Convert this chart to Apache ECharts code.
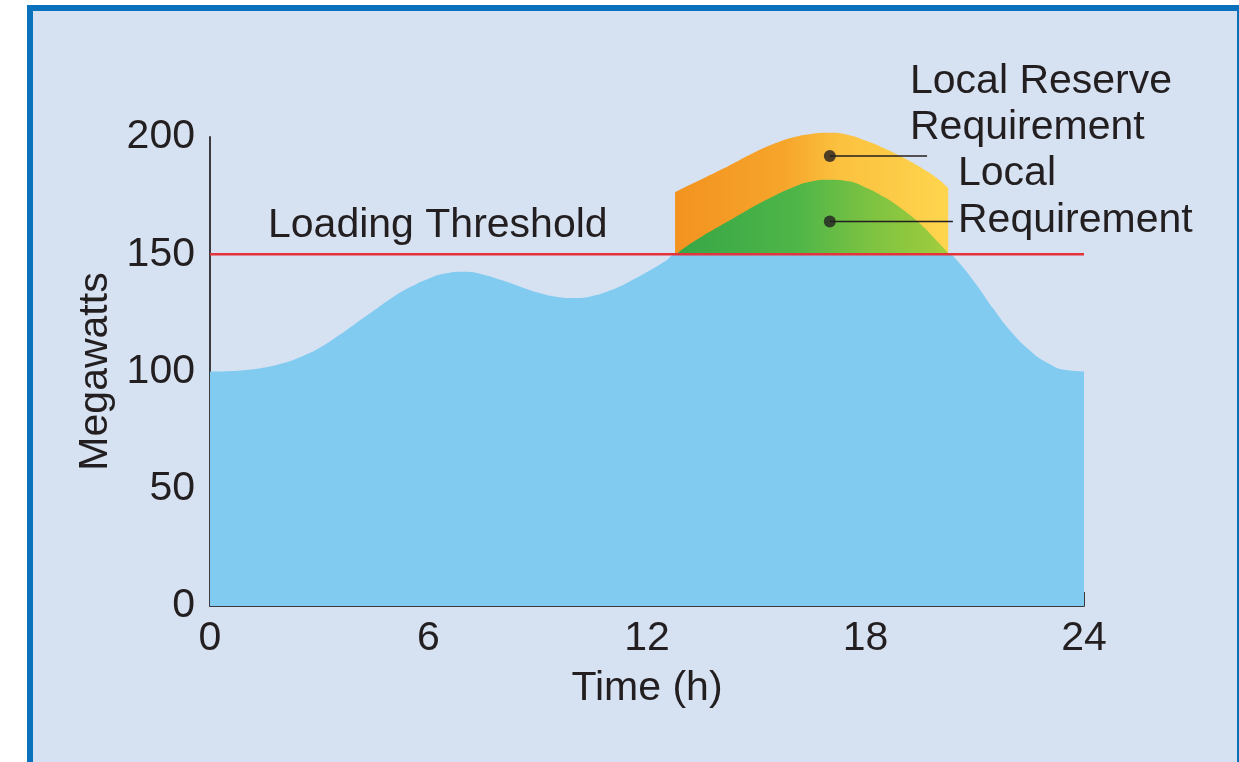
<!DOCTYPE html>
<html>
<head>
<meta charset="utf-8">
<script src="https://cdn.jsdelivr.net/npm/echarts@6/dist/echarts.min.js"></script>
<style>
  html, body { margin: 0; padding: 0; background: #ffffff; overflow: hidden; }
  #frame { position: absolute; left: 27px; top: 5px; width: 1204px; height: 800px;
           background: #d6e1f2; border-left: 6px solid #0a72bd; border-top: 6px solid #0a72bd; border-right: 6px solid #0a72bd; }
  #chart { position: absolute; left: 0; top: 0; width: 1239px; height: 762px; }
</style>
</head>
<body>
<div id="frame"></div>
<div id="chart"></div>
<script>
// ---- data ----
const xTicks = [0, 6, 12, 18, 24];
const yTicks = [0, 50, 100, 150, 200];
const loadHours = [0, 0.5, 1, 1.5, 2, 2.5, 3, 3.5, 4, 4.5, 5, 5.5, 6, 6.5, 7, 7.5, 8, 8.5, 9, 9.5, 10, 10.5, 11, 11.5, 12, 12.5, 12.8,
                   13.5, 14, 15, 16, 17, 18, 19, 20, 20.3, 20.5, 21, 21.5, 22, 22.5, 23, 23.5, 24];
const loadMW    = [100, 100.1, 100.6, 101.7, 103.5, 106.3, 110, 115, 120.5, 126, 131.5, 136, 139.6, 141.9, 142.5, 141.3, 139, 136.3, 133.7, 131.9, 131.3, 132.2, 134.6, 138.2, 142.4, 147, 150,
                   150, 150, 150, 150, 150, 150, 150, 150, 150, 147.5, 138, 127, 117, 109.2, 103.6, 100.6, 100];
const reserveHours = [12.77, 13, 13.5, 14, 14.5, 15, 15.5, 16, 16.5, 17, 17.5, 18, 18.5, 19, 19.5, 20, 20.27];
const reserveMW    = [176.5, 178.3, 182, 185.8, 189.8, 193.8, 197.2, 199.8, 201.3, 201.8, 201, 198.5, 195.3, 191.5, 187.2, 182, 178.2];
const localHours = [12.8, 13, 13.5, 14, 14.5, 15, 15.5, 16, 16.5, 17, 17.5, 18, 18.5, 19, 19.5, 20, 20.3];
const localMW    = [150, 152.5, 157.5, 162, 166.5, 171, 175, 178.5, 181, 181.8, 181.2, 178.5, 174.5, 169.3, 163, 155, 150];
const threshold = 150;
const thresholdSpan = [0, 24];
const reserveDot = [17.02, 191.9];
const reserveLeaderEnd = 19.69;
const localDot = [17.02, 164.0];
const localLeaderEnd = 20.4;

const FONT = '"Liberation Sans", Arial, Helvetica, sans-serif';
const FS = 41;
const TXT = '#231f20';

const zip = (xs, ys) => xs.map((x, i) => [x, ys[i]]);

const chart = echarts.init(document.getElementById('chart'), null, { renderer: 'canvas' });
chart.setOption({
  backgroundColor: 'transparent',
  animation: false,
  grid: { left: 210, right: 155, top: 137, bottom: 156, containLabel: false },
  xAxis: {
    type: 'value', min: xTicks[0], max: xTicks[xTicks.length - 1], interval: 6,
    name: 'Time (h)', nameLocation: 'middle', nameGap: 62,
    nameTextStyle: { fontFamily: FONT, fontSize: FS, color: TXT },
    axisLine: { show: true, lineStyle: { color: '#3b3b3d', width: 2 } },
    axisTick: { show: true, inside: true, length: 14, lineStyle: { color: '#3b3b3d', width: 2 } },
    axisLabel: { fontFamily: FONT, fontSize: FS, color: TXT, margin: 12,
                 formatter: v => xTicks.includes(v) ? String(v) : '' },
    splitLine: { show: false }
  },
  yAxis: {
    type: 'value', min: yTicks[0], max: yTicks[yTicks.length - 1], interval: 50,
    name: 'Megawatts', nameLocation: 'middle', nameGap: 94, nameRotate: 90,
    nameTextStyle: { fontFamily: FONT, fontSize: FS, color: TXT },
    axisLine: { show: true, lineStyle: { color: '#3b3b3d', width: 2 } },
    axisTick: { show: false },
    axisLabel: { fontFamily: FONT, fontSize: FS, color: TXT, margin: 15,
                 formatter: v => yTicks.includes(v) ? String(v) : '' },
    splitLine: { show: false }
  },
  graphic: [
    { type: 'text', left: 268, top: 226 - 21, style: { text: 'Loading Threshold', font: FS + 'px ' + FONT, fill: TXT } },
    { type: 'text', left: 910, top: 82 - 21, style: { text: 'Local Reserve', font: FS + 'px ' + FONT, fill: TXT } },
    { type: 'text', left: 910, top: 128 - 21, style: { text: 'Requirement', font: FS + 'px ' + FONT, fill: TXT } },
    { type: 'text', left: 958, top: 174 - 21, style: { text: 'Local', font: FS + 'px ' + FONT, fill: TXT } },
    { type: 'text', left: 958, top: 221 - 21, style: { text: 'Requirement', font: FS + 'px ' + FONT, fill: TXT } }
  ],
  series: [
    {
      type: 'line', name: 'Load', data: zip(loadHours, loadMW), smooth: 0.5,
      showSymbol: false, symbol: 'none', lineStyle: { width: 0 }, clip: false,
      areaStyle: { color: '#81cbf1', opacity: 1, origin: 'start' }, z: 2
    },
    {
      type: 'line', name: 'Local Reserve Requirement', data: zip(reserveHours, reserveMW), smooth: 0.5,
      showSymbol: false, symbol: 'none', lineStyle: { width: 0 }, clip: false,
      areaStyle: { opacity: 1, origin: threshold,
        color: new echarts.graphic.LinearGradient(0, 0, 1, 0, [
          { offset: 0, color: '#f39320' }, { offset: 0.4, color: '#f6a52b' },
          { offset: 0.6, color: '#fbc13f' }, { offset: 1, color: '#fed54e' }]) }, z: 3
    },
    {
      type: 'line', name: 'Local Requirement', data: zip(localHours, localMW), smooth: 0.5,
      showSymbol: false, symbol: 'none', lineStyle: { width: 0 }, clip: false,
      areaStyle: { opacity: 1, origin: threshold,
        color: new echarts.graphic.LinearGradient(0, 0, 1, 0, [
          { offset: 0, color: '#36a646' }, { offset: 0.45, color: '#4fb648' },
          { offset: 0.7, color: '#7cc242' }, { offset: 1, color: '#a2cd3c' }]) }, z: 4
    },
    {
      type: 'line', name: 'Loading Threshold', data: thresholdSpan.map(h => [h, threshold]),
      showSymbol: false, symbol: 'none', lineStyle: { color: '#e5333b', width: 2.5 }, z: 5
    },
    {
      type: 'line', data: [reserveDot, [reserveLeaderEnd, reserveDot[1]]], showSymbol: false, symbol: 'none',
      lineStyle: { color: TXT, width: 1.5 }, z: 6
    },
    {
      type: 'line', data: [localDot, [localLeaderEnd, localDot[1]]], showSymbol: false, symbol: 'none',
      lineStyle: { color: TXT, width: 1.5 }, z: 6
    },
    {
      type: 'scatter', data: [reserveDot, localDot], symbolSize: 12,
      itemStyle: { color: TXT }, z: 7
    }
  ]
});
</script>
</body>
</html>
